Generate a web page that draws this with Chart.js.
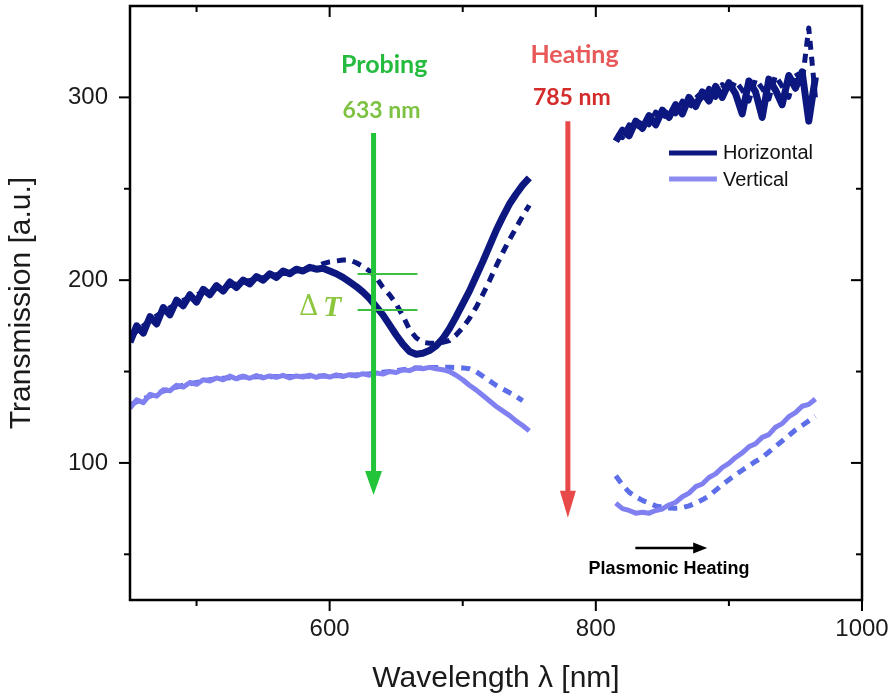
<!DOCTYPE html>
<html>
<head>
<meta charset="utf-8">
<script src="https://cdn.jsdelivr.net/npm/chart.js@4.4.1/dist/chart.umd.min.js"></script>
<style>
  html, body { margin: 0; padding: 0; background: #fff; }
</style>
</head>
<body>
<canvas id="myChart" width="893" height="700"></canvas>
<script>
// wavelength grids (nm) for the two measured bands
const waveA = [450, 455, 460, 465, 470, 475, 480, 485, 490, 495,
               500, 505, 510, 515, 520, 525, 530, 535, 540, 545,
               550, 555, 560, 565, 570, 575, 580, 585, 590, 595,
               600, 605, 610, 615, 620, 625, 630, 635, 640, 645,
               650, 655, 660, 665, 670, 675, 680, 685, 690, 695,
               700, 705, 710, 715, 720, 725, 730, 735, 740, 745, 750];
const waveB = [815, 820, 825, 830, 835, 840, 845, 850, 855, 860,
               865, 870, 875, 880, 885, 890, 895, 900, 905, 910,
               915, 920, 925, 930, 935, 940, 945, 950, 955, 960, 965];

// Horizontal polarisation, solid (before) and dashed (after)
const hSolidA = [166, 175, 171, 180, 176, 185, 181, 189, 186, 192,
                 188, 195, 192, 197, 194, 199, 196, 200, 198, 202,
                 200, 203.5, 201.5, 205, 203.5, 206, 205, 207, 206, 206.5,
                 205, 203.5, 201.5, 199, 196.5, 193.5, 190, 185.5, 181, 175.5,
                 170, 165, 161, 159.5, 160, 161.5, 164, 168, 173.5, 180,
                 187, 194, 202, 210, 218.5, 227, 234.5, 241.5, 247, 252, 256];
const hDashA = [169, 172, 175, 178, 180.5, 183, 185, 187, 189, 190.5,
                192, 193.5, 194.5, 195.5, 196, 197, 198, 199, 199.8, 200.5,
                201.3, 202, 203, 203.7, 204.4, 205, 205.7, 206.2, 207.5, 209,
                210, 210.5, 211, 211, 209.5, 207.5, 205, 201.5, 196, 192,
                187, 180.5, 173, 168.5, 166, 165.5, 165.5, 166, 167, 170,
                174, 179, 185, 192, 199.5, 207.5, 215, 222, 228.5, 235, 241];
const hSolidB = [276, 282, 279, 287, 283, 290, 285, 293, 289, 296,
                 291, 300, 295, 303, 298, 306, 300, 308, 302, 291,
                 309, 303, 289, 310, 304, 296, 312, 305, 314, 287, 311];
const hDashB = [279, 278, 285, 282, 289, 285, 292, 288, 295, 291,
                298, 294, 302, 298, 305, 300, 307, 302, 309, 304,
                298, 310, 305, 299, 312, 306, 300, 314, 308, 338, 300];

// Vertical polarisation
const vSolidA = [130, 134.5, 133, 137.5, 136.5, 140, 139.5, 142.5, 141.5, 144,
                 143, 145.5, 144.8, 146.5, 145.5, 147.5, 146, 147.5, 146.3, 147.8,
                 146.5, 147.6, 146.8, 147.9, 146.5, 147.6, 147, 148, 146.8, 147.8,
                 147, 148.2, 147.3, 148.3, 147.6, 148.8, 148, 149.2, 148.6, 150,
                 149.5, 151, 150.5, 152, 151.5, 152.3, 151.5, 151, 150, 148,
                 145.5, 142.5, 140, 137, 134, 131, 128.5, 126, 123, 120.5, 117.5];
const vDashA = [131.7, 133.5, 135, 136.5, 138, 139.3, 140.5, 141.5, 142.5, 143.3,
                144, 144.8, 145.5, 146, 146.3, 146.6, 146.8, 147, 147, 147.1,
                147.2, 147.2, 147.3, 147.3, 147.3, 147.3, 147.4, 147.4, 147.5, 147.5,
                147.6, 147.7, 147.8, 148, 148.2, 148.5, 148.8, 149.2, 149.6, 150,
                150.5, 151, 151.5, 152, 152, 152.2, 152.2, 152.3, 152.3, 152.2,
                152, 151.5, 150, 147.5, 145, 142.5, 140.5, 138.5, 136.5, 134, null];
const vSolidB = [78, 75, 74, 72.5, 73, 72.5, 74, 74.8, 77, 78.5,
                 81.5, 83.5, 87, 88.5, 92, 94, 97.5, 99.8, 103, 105.5,
                 108.8, 110.5, 114, 115.5, 119.5, 121.5, 125.3, 127.5, 131, 132, 135];
const vDashB = [93, 88, 84, 81.5, 79.5, 78, 76.5, 75.8, 75.3, 75.2,
                75.5, 76.5, 78, 79.8, 82, 85, 88, 90.8, 93.5, 96,
                98.5, 100.8, 103, 106, 109, 112, 115, 118, 120.5, 123, 125.5];

const xMajor = [600, 800, 1000];
const xMinor = [500, 700, 900];
const yMajor = [100, 200, 300];
const yMinor = [50, 150, 250];

const navy = '#0c1880';
const lilac = '#8080f0';
const lilacDash = '#5c6ee8';

function series(a, b) {
  const pts = waveA.map((w, i) => ({ x: w, y: a[i] }));
  pts.push({ x: 780, y: null });
  return pts.concat(waveB.map((w, i) => ({ x: w, y: b[i] })));
}

function arrowDown(ctx, px, pTop, pTip, color, w, headH, headW) {
  ctx.strokeStyle = color;
  ctx.fillStyle = color;
  ctx.lineWidth = w;
  ctx.beginPath();
  ctx.moveTo(px, pTop);
  ctx.lineTo(px, pTip - headH + 2);
  ctx.stroke();
  ctx.beginPath();
  ctx.moveTo(px, pTip);
  ctx.lineTo(px - headW, pTip - headH);
  ctx.lineTo(px + headW, pTip - headH);
  ctx.closePath();
  ctx.fill();
}

const framePlugin = {
  id: 'frame',
  afterDatasetsDraw(chart) {
    const { ctx, chartArea: a, scales: { x, y } } = chart;
    ctx.save();

    // annotations
    const gx = x.getPixelForValue(633);
    arrowDown(ctx, gx, y.getPixelForValue(280.5), y.getPixelForValue(82.5), '#22c43a', 5, 24, 8.5);
    const rx = x.getPixelForValue(779);
    arrowDown(ctx, rx, y.getPixelForValue(287), y.getPixelForValue(70), '#e84a4a', 5, 27, 8);

    ctx.strokeStyle = '#3cc043';
    ctx.lineWidth = 2;
    [203.4, 183.7].forEach(v => {
      ctx.beginPath();
      ctx.moveTo(x.getPixelForValue(621), y.getPixelForValue(v));
      ctx.lineTo(x.getPixelForValue(666), y.getPixelForValue(v));
      ctx.stroke();
    });

    ctx.textAlign = 'center';
    ctx.textBaseline = 'middle';
    ctx.font = 'bold 25px Lato';
    ctx.fillStyle = '#24bb3e';
    ctx.fillText('Probing', x.getPixelForValue(641), y.getPixelForValue(317.5));
    ctx.font = 'bold 23px Lato';
    ctx.fillStyle = '#7dc242';
    ctx.fillText('633 nm', x.getPixelForValue(639), y.getPixelForValue(293));
    ctx.font = 'bold 25px Lato';
    ctx.fillStyle = '#e85a5a';
    ctx.fillText('Heating', x.getPixelForValue(784), y.getPixelForValue(323));
    ctx.font = 'bold 23px Lato';
    ctx.fillStyle = '#d42b2b';
    ctx.fillText('785 nm', x.getPixelForValue(782), y.getPixelForValue(300));

    // delta T
    ctx.fillStyle = '#8cc63f';
    ctx.textAlign = 'left';
    const dtY = y.getPixelForValue(184.8);
    ctx.font = '27px "DejaVu Serif"';
    ctx.fillText('\u0394', x.getPixelForValue(577), dtY);
    ctx.font = 'italic bold 30px "Liberation Serif"';
    ctx.fillText('T', x.getPixelForValue(595), dtY);

    // legend
    ctx.font = '20px "Liberation Sans"';
    ctx.fillStyle = '#111';
    ctx.lineWidth = 5;
    [[chart.data.datasets[0], 269.6], [chart.data.datasets[2], 255.3]].forEach(([ds, v]) => {
      const py = y.getPixelForValue(v);
      ctx.strokeStyle = ds.legendColor;
      ctx.beginPath();
      ctx.moveTo(x.getPixelForValue(855), py);
      ctx.lineTo(x.getPixelForValue(891), py);
      ctx.stroke();
      ctx.fillText(ds.label, x.getPixelForValue(895.5), py + 1);
    });

    // plasmonic heating arrow
    const ay = y.getPixelForValue(53.4);
    const ax0 = x.getPixelForValue(829.7), ax1 = x.getPixelForValue(883.7);
    ctx.strokeStyle = '#000';
    ctx.fillStyle = '#000';
    ctx.lineWidth = 2.5;
    ctx.beginPath();
    ctx.moveTo(ax0, ay);
    ctx.lineTo(ax1 - 10, ay);
    ctx.stroke();
    ctx.beginPath();
    ctx.moveTo(ax1, ay);
    ctx.lineTo(ax1 - 14, ay - 5.5);
    ctx.lineTo(ax1 - 14, ay + 5.5);
    ctx.closePath();
    ctx.fill();
    ctx.textAlign = 'center';
    ctx.font = 'bold 18px "Liberation Sans"';
    ctx.fillText('Plasmonic Heating', x.getPixelForValue(855), y.getPixelForValue(42));

    // frame and ticks
    ctx.strokeStyle = '#000';
    ctx.lineWidth = 2.5;
    ctx.strokeRect(a.left, a.top, a.right - a.left, a.bottom - a.top);
    ctx.lineWidth = 2;
    const tick = (x0, y0, x1, y1) => { ctx.beginPath(); ctx.moveTo(x0, y0); ctx.lineTo(x1, y1); ctx.stroke(); };
    xMajor.concat(xMinor).forEach(v => {
      const px = x.getPixelForValue(v);
      const len = xMajor.includes(v) ? 11 : 6;
      tick(px, a.bottom, px, a.bottom + len);
      tick(px, a.top, px, a.top + len);
    });
    yMajor.concat(yMinor).forEach(v => {
      const py = y.getPixelForValue(v);
      const len = yMajor.includes(v) ? 11 : 6;
      tick(a.left - len, py, a.left, py);
      tick(a.right - len, py, a.right, py);
    });
    ctx.restore();
  }
};

Chart.defaults.font.family = '"Liberation Sans", Arial, sans-serif';
Chart.defaults.color = '#1a1a1a';

new Chart(document.getElementById('myChart'), {
  type: 'line',
  data: {
    datasets: [
      { label: 'Horizontal', data: series(hSolidA, hSolidB), borderColor: navy, legendColor: navy, borderWidth: 7 },
      { label: 'Horizontal (dashed)', data: series(hDashA, hDashB), borderColor: navy, borderWidth: 5, borderDash: [9, 7] },
      { label: 'Vertical', data: series(vSolidA, vSolidB), borderColor: lilac, legendColor: '#8c8cf0', borderWidth: 5 },
      { label: 'Vertical (dashed)', data: series(vDashA, vDashB), borderColor: lilacDash, borderWidth: 5, borderDash: [9, 7] }
    ]
  },
  options: {
    responsive: false,
    animation: false,
    devicePixelRatio: 1,
    layout: { padding: { top: 6, right: 31, left: 0, bottom: 0 } },
    elements: { point: { radius: 0 }, line: { tension: 0, borderJoinStyle: 'round', borderCapStyle: 'butt' } },
    plugins: { legend: { display: false }, tooltip: { enabled: false } },
    scales: {
      x: {
        type: 'linear', min: 450, max: 1000,
        afterBuildTicks: s => { s.ticks = xMajor.map(v => ({ value: v })); },
        afterFit: s => { s.height = 100; s.paddingLeft = 0; s.paddingRight = 0; },
        grid: { display: false, drawTicks: false },
        border: { display: false },
        ticks: { padding: 15, font: { size: 24 }, color: '#1a1a1a', callback: v => String(v) },
        title: { display: true, text: 'Wavelength \u03bb [nm]', font: { size: 30 }, color: '#1a1a1a', padding: { top: 0, bottom: 3 } }
      },
      y: {
        type: 'linear', min: 25, max: 350,
        afterBuildTicks: s => { s.ticks = yMajor.map(v => ({ value: v })); },
        afterFit: s => { s.width = 130; s.paddingTop = 0; s.paddingBottom = 0; },
        grid: { display: false, drawTicks: false },
        border: { display: false },
        ticks: { padding: 22, font: { size: 24 }, color: '#1a1a1a', callback: v => String(v) },
        title: { display: true, text: 'Transmission [a.u.]', font: { size: 30 }, color: '#1a1a1a', padding: { top: 4, bottom: 0 } }
      }
    }
  },
  plugins: [framePlugin]
});
</script>
</body>
</html>
